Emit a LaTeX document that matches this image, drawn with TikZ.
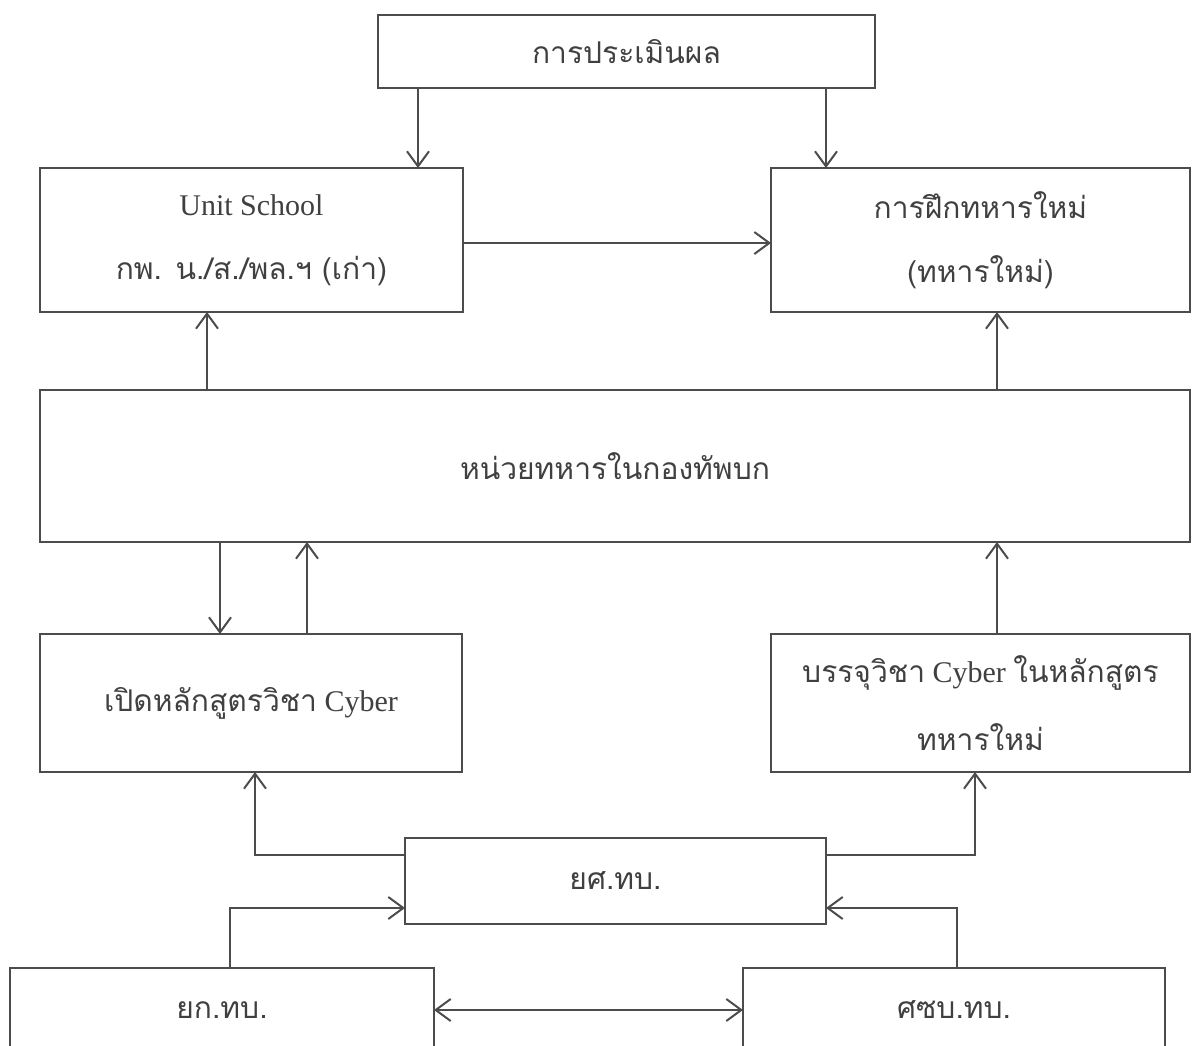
\documentclass[tikz,border=0pt]{standalone}
\usepackage{fontspec}
\setmainfont{Liberation Serif}
\newfontfamily\thaifont[Script=Thai]{Loma}
\usetikzlibrary{calc,arrows.meta}

\tikzset{
    box/.style={draw=black!70, line width=1.8pt, inner sep=0pt, outer sep=0pt,
        align=center, text=black!75, font=\fontsize{30}{64}\selectfont},
    arr/.style={draw=black!70, line width=1.8pt,
        -{Straight Barb[length=15pt,width=22pt,line width=2pt]}},
    dblarr/.style={arr, {Straight Barb[length=15pt,width=22pt,line width=2pt]}-{Straight Barb[length=15pt,width=22pt,line width=2pt]}},
}

\begin{document}
\begin{tikzpicture}[x=1pt, y=-1pt]
    \useasboundingbox (0,0) rectangle (1192,1046);

    % top row
    \node[box, minimum width=497pt, minimum height=73pt] (eval) at (626.5, 51.5)
    {\thaifont การประเมินผล};
    \node[box, minimum width=423pt, minimum height=144pt] (unit) at (251.5, 240)
    {Unit School\\ {\thaifont กพ. น./ส./พล.ฯ (เก่า)}};
    \node[box, minimum width=419pt, minimum height=144pt] (recruit) at (980.5, 240)
    {\thaifont การฝึกทหารใหม่\\ \thaifont (ทหารใหม่)};

    % army units
    \node[box, minimum width=1150pt, minimum height=152pt] (army) at (615, 466)
    {\thaifont หน่วยทหารในกองทัพบก};

    % courses
    \node[box, minimum width=422pt, minimum height=138pt] (open) at (251, 703)
    {{\thaifont เปิดหลักสูตรวิชา} Cyber};
    \node[box, minimum width=419pt, minimum height=138pt] (add) at (980.5, 703)
    {{\thaifont บรรจุวิชา} Cyber {\thaifont ในหลักสูตร}\\[4pt] \thaifont ทหารใหม่};

    % bottom offices
    \node[box, minimum width=421pt, minimum height=86pt] (edu) at (615.5, 881)
    {\thaifont ยศ.ทบ.};
    \node[box, minimum width=424pt, minimum height=84pt] (ops) at (222, 1010)
    {\thaifont ยก.ทบ.};
    \node[box, minimum width=422pt, minimum height=84pt] (cyb) at (954, 1010)
    {\thaifont ศซบ.ทบ.};

    % anchor points
    \coordinate (e1) at ([xshift=-208.5pt]eval.south);
    \coordinate (e2) at ([xshift=199.5pt]eval.south);
    \coordinate (a1) at ([xshift=-408pt]army.north);
    \coordinate (a2) at ([xshift=382pt]army.north);
    \coordinate (o1) at ([xshift=-31pt]open.north);
    \coordinate (o2) at ([xshift=56pt]open.north);
    \coordinate (d1) at ([xshift=16.5pt]add.north);
    \coordinate (s1) at ([yshift=26pt]edu.west);
    \coordinate (s2) at ([yshift=26pt]edu.east);
    \coordinate (s3) at ([yshift=-27pt]edu.west);
    \coordinate (s4) at ([yshift=-27pt]edu.east);

    % connectors
    \draw[arr] (e1) -- (e1 |- unit.north);
    \draw[arr] (e2) -- (e2 |- recruit.north);
    \draw[arr] ([yshift=-3pt]unit.east) -- ([yshift=-3pt]unit.east -| recruit.west);
    \draw[arr] (a1) -- (a1 |- unit.south);
    \draw[arr] (a2) -- (a2 |- recruit.south);
    \draw[arr] (o1 |- army.south) -- (o1);
    \draw[arr] (o2) -- (o2 |- army.south);
    \draw[arr] (d1) -- (d1 |- army.south);
    \draw[arr] (s1) -| ([xshift=4pt]open.south);
    \draw[arr] (s2) -| ([xshift=-5.5pt]add.south);
    \draw[arr] ([xshift=8pt]ops.north) |- (s3);
    \draw[arr] ([xshift=3pt]cyb.north) |- (s4);
    \draw[dblarr] (ops.east) -- (cyb.west);
\end{tikzpicture}
\end{document}
